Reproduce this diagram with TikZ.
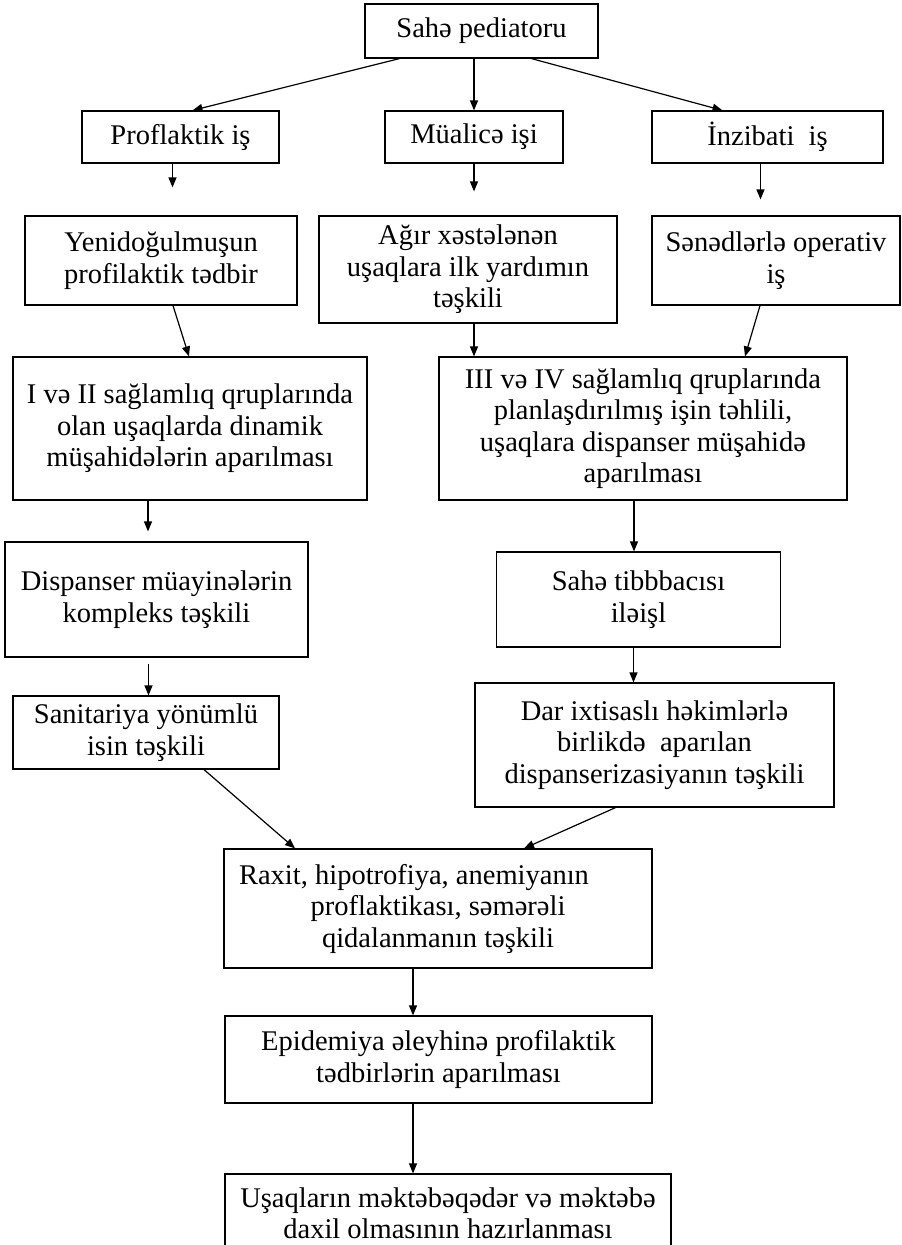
\documentclass[tikz,border=0pt]{standalone}
\usepackage{fontspec}
\setmainfont{Liberation Serif}
\usepackage{tikz}
\usetikzlibrary{arrows.meta, positioning, calc}

\begin{document}
\begin{tikzpicture}[
    x=1pt, y=-1pt,
    blk/.style={rectangle, draw, line width=1.2pt, inner sep=0pt, align=center, font=\fontsize{28.5}{31.5}\selectfont},
    arr/.style={-{Triangle[length=10pt, width=8pt]}, line width=1.2pt}
]
\clip (0,0) rectangle (902,1245);

% Top
\node[blk, minimum width=233pt, minimum height=54pt] (ped) at (481.5,31) {Sahə pediatoru};

% Three kinds of work
\node[blk, minimum width=197pt, minimum height=52pt] (prof) at (180.5,137) {Proflaktik iş};
\node[blk, minimum width=178pt, minimum height=52pt] (mual) at (474,137) {Müalicə işi};
\node[blk, minimum width=231pt, minimum height=52pt] (inz) at (767.5,137) {İnzibati\ \ iş};

% Second row
\node[blk, minimum width=272pt, minimum height=89pt] (yeni) at (161,260.5) {Yenidoğulmuşun\\profilaktik tədbir};
\node[blk, minimum width=298pt, minimum height=107pt] (agir) at (468,269.5) {Ağır xəstələnən\\uşaqlara ilk yardımın\\təşkili};
\node[blk, minimum width=248pt, minimum height=89pt] (sened) at (776,260.5) {Sənədlərlə operativ\\iş};

% Health groups
\node[blk, minimum width=354pt, minimum height=143pt] (qrup12) at (190,428.5) {I və II sağlamlıq qruplarında\\olan uşaqlarda dinamik\\müşahidələrin aparılması};
\node[blk, minimum width=408pt, minimum height=143pt] (qrup34) at (643,428.5) {III və IV sağlamlıq qruplarında\\planlaşdırılmış işin təhlili,\\uşaqlara dispanser müşahidə\\aparılması};

% Left column
\node[blk, minimum width=303pt, minimum height=115pt] (disp) at (156.5,599.5) {Dispanser müayinələrin\\kompleks təşkili};
\node[blk, minimum width=266pt, minimum height=73pt] (sanit) at (146,732.5) {Sanitariya yönümlü\\isin təşkili};

% Right column
\node[blk, minimum width=284pt, minimum height=95pt] (tibb) at (638.5,599.5) {Sahə tibbbacısı\\iləişl};
\node[blk, minimum width=359pt, minimum height=124pt] (dar) at (654.5,745) {Dar ixtisaslı həkimlərlə\\birlikdə\ \ aparılan\\dispanserizasiyanın təşkili};

% Bottom chain
\node[blk, minimum width=428pt, minimum height=119pt] (raxit) at (438,908.5) {Raxit, hipotrofiya, anemiyanın\hspace*{48pt}\\proflaktikası, səmərəli\\qidalanmanın təşkili};
\node[blk, minimum width=427pt, minimum height=87pt] (epid) at (438.5,1059.5) {Epidemiya əleyhinə profilaktik\\tədbirlərin aparılması};
\node[blk, minimum width=446pt, minimum height=78pt] (usaq) at (448,1213) {Uşaqların məktəbəqədər və məktəbə\\daxil olmasının hazırlanması};

\draw[arr] ([xshift=-82pt]ped.south) -- ([xshift=12pt]prof.north);
\draw[arr] (mual.north |- ped.south) -- (mual.north);
\draw[arr] ([xshift=50pt]ped.south) -- ([xshift=-45pt]inz.north);

\draw[arr, shorten >=28pt] ([xshift=-8pt]prof.south) -- ([xshift=-8pt]prof.south |- yeni.north);
\draw[arr, shorten >=24pt] (mual.south) -- (mual.south |- agir.north);
\draw[arr, shorten >=16pt] ([xshift=-7pt]inz.south) -- ([xshift=-7pt]inz.south |- sened.north);

\draw[arr] ([xshift=12pt]yeni.south) -- ([xshift=-1pt]qrup12.north);
\draw[arr] (mual.south |- agir.south) -- (mual.south |- qrup34.north);
\draw[arr] ([xshift=-16pt]sened.south) -- ([xshift=102pt]qrup34.north);

\draw[arr, shorten >=10pt] ([xshift=-42pt]qrup12.south) -- ([xshift=-42pt]qrup12.south |- disp.north);
\draw[arr] ([xshift=-9pt]qrup34.south) -- ([xshift=-9pt]qrup34.south |- tibb.north);

\draw[arr, shorten <=6pt] ([xshift=-8pt]disp.south) -- ([xshift=-8pt]disp.south |- sanit.north);
\draw[arr] ([xshift=-5pt]tibb.south) -- ([xshift=-5pt]tibb.south |- dar.north);

\draw[arr] ([xshift=58pt]sanit.south) -- ([xshift=-143pt]raxit.north);
\draw[arr] ([xshift=-39pt]dar.south) -- ([xshift=86pt]raxit.north);

\draw[arr] ([xshift=-25pt]raxit.south) -- ([xshift=-25pt]raxit.south |- epid.north);
\draw[arr] ([xshift=-25pt]raxit.south |- epid.south) -- ([xshift=-25pt]raxit.south |- usaq.north);
\end{tikzpicture}
\end{document}
